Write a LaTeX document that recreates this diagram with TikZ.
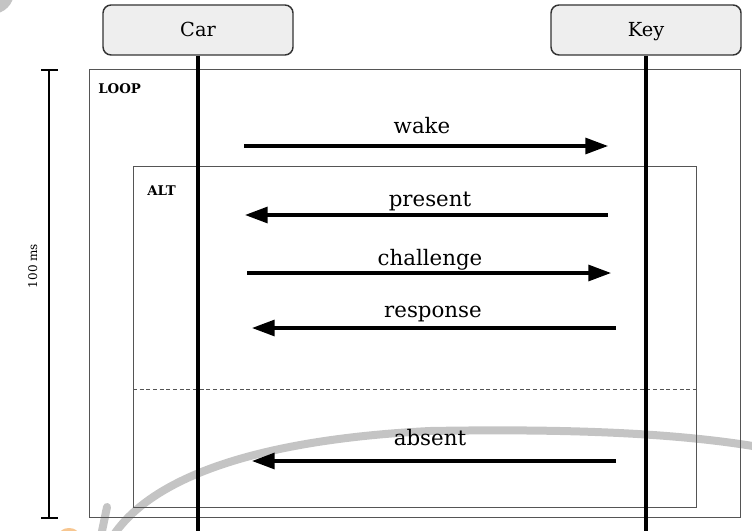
\documentclass[tikz,border=0pt]{standalone}
\usepackage{fontspec}
\setmainfont{DejaVu Serif}
\usetikzlibrary{arrows.meta}
\definecolor{boxfill}{HTML}{EEEEEE}
\definecolor{boxline}{HTML}{333333}
\definecolor{frameline}{HTML}{555555}
\definecolor{scribble}{HTML}{C4C4C4}
\definecolor{blob}{HTML}{F7C690}
\tikzset{
  actor/.style={draw=boxline, line width=1.1pt, fill=boxfill, rounded corners=6pt,
    minimum width=142.5pt, minimum height=37.5pt, inner sep=0pt,
    text height=10.5pt, text depth=0pt,
    font=\fontsize{14.5}{17}\selectfont},
  lifeline/.style={line width=2.3pt, black},
  frame/.style={draw=frameline, line width=0.75pt},
  framelabel/.style={anchor=base west, inner sep=0pt, font=\bfseries\fontsize{10}{12}\selectfont},
  msg/.style={line width=2.3pt, -{Triangle[length=17pt,width=12pt]}},
  msglabel/.style={anchor=base, inner sep=0pt, font=\fontsize{16}{19}\selectfont},
}
\begin{document}
\begin{tikzpicture}[x=0.75pt,y=-0.75pt]
\useasboundingbox (0,0) rectangle (752,531);
% background scribbles
\begin{scope}
  \clip (0,0) rectangle (752,531);
  \fill[scribble] (-8,-8) circle (22);
  \fill[blob] (69,535) ellipse (10 and 7);
  \draw[scribble, line width=6pt, line cap=round]
    (113,536) .. controls (150,480) and (250,440) .. (430,431)
    .. controls (600,428) and (700,436) .. (770,449);
  \draw[scribble, line width=6pt, line cap=round] (107,507) -- (101,536);
\end{scope}
% frames
\draw[frame] (89,70) rectangle (740,517);
\draw[frame] (133,166) rectangle (696,507);
\draw[frameline, line width=0.6pt, dash pattern=on 3pt off 2pt] (133,389) -- (696,389);
\node[framelabel] (loop) at (98,94) {LOOP};
\node[framelabel] (alt) at (147,195) {ALT};
% time bracket
\coordinate (tt) at (49,70);
\coordinate (tb) at (49,518);
\draw[line width=1.1pt] (tt) -- (tb);
\draw[line width=1.1pt] (41,70) -- (58,70);
\draw[line width=1.1pt] (41,518) -- (58,518);
\node[rotate=90, anchor=base, inner sep=0pt, font=\fontsize{9}{11}\selectfont] (ms) at (37,266) {100 ms};
% actors
\node[actor] (car) at (198,30) {Car};
\node[actor] (key) at (646,30) {Key};
\coordinate (carend) at (198,531);
\coordinate (keyend) at (646,531);
\draw[lifeline] (car.south) -- (carend);
\draw[lifeline] (key.south) -- (keyend);
% messages
\coordinate (w1) at (244,146); \coordinate (w2) at (608,146);
\coordinate (p1) at (608,215); \coordinate (p2) at (245,215);
\coordinate (c1) at (247,273); \coordinate (c2) at (611,273);
\coordinate (r1) at (616,328); \coordinate (r2) at (252,328);
\coordinate (a1) at (616,461); \coordinate (a2) at (252,461);
\draw[msg] (w1) -- (w2);
\draw[msg] (p1) -- (p2);
\draw[msg] (c1) -- (c2);
\draw[msg] (r1) -- (r2);
\draw[msg] (a1) -- (a2);
\node[msglabel] (lw) at (422,133) {wake};
\node[msglabel] (lp) at (430,206) {present};
\node[msglabel] (lc) at (430,265) {challenge};
\node[msglabel] (lr) at (433,317) {response};
\node[msglabel] (la) at (430,445) {absent};
\end{tikzpicture}
\end{document}
